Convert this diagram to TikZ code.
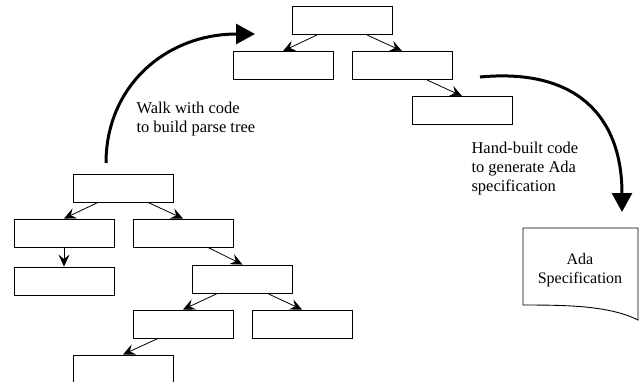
\documentclass[tikz,border=0pt]{standalone}
\usepackage{fontspec}
\setmainfont{Liberation Serif}
\usetikzlibrary{arrows.meta}

\begin{document}
\begin{tikzpicture}[x=1pt,y=-1pt,
  treebox/.style={draw,line width=0.9pt,minimum width=100pt,minimum height=28pt,inner sep=0pt},
  link/.style={-{Stealth[length=12pt,width=11pt,inset=4.5pt]},line width=0.8pt},
  bigarrow/.style={-{Triangle[length=19pt,width=20pt]},line width=3pt},
  note/.style={align=left,anchor=west,font=\fontsize{16.5}{19}\selectfont}]

\clip (0,0) rectangle (641,381);

% parse tree
\node[treebox] (root) at (123,188) {};
\node[treebox] (rootl) at (64,233) {};
\node[treebox] (rootr) at (183,233) {};
\node[treebox] (rootll) at (64,281) {};
\node[treebox] (rootrr) at (242.5,279) {};
\node[treebox] (rootrrl) at (183,324) {};
\node[treebox] (rootrrr) at (302,324) {};
\node[treebox] (rootrrll) at (123,369) {};

\draw[link] ([xshift=-25pt]root.south) -- (rootl.north);
\draw[link] ([xshift=25pt]root.south) -- (rootr.north);
\draw[link] (rootl.south) -- (rootll.north);
\draw[link] ([xshift=25pt]rootr.south) -- (rootrr.north);
\draw[link] ([xshift=-25pt]rootrr.south) -- (rootrrl.north);
\draw[link] ([xshift=25pt]rootrr.south) -- (rootrrr.north);
\draw[link] ([xshift=-25pt]rootrrl.south) -- (rootrrll.north);

% walked tree
\node[treebox] (walk) at (342,20.5) {};
\node[treebox] (walkl) at (283,65.5) {};
\node[treebox] (walkr) at (402,65.5) {};
\node[treebox] (walkrr) at (462,110.5) {};

\draw[link] ([xshift=-25pt]walk.south) -- (walkl.north);
\draw[link] ([xshift=25pt]walk.south) -- (walkr.north);
\draw[link] ([xshift=25pt]walkr.south) -- (walkrr.north);

% big arrows
\coordinate (walkfrom) at (106,163);
\coordinate (walkto) at (255,34);
\draw[bigarrow] (walkfrom) .. controls (106,86) and (166,34) .. (walkto);
\node[note] (walktext) at (133,119) {Walk with code\\to build parse tree};

\coordinate (genfrom) at (480,77);
\coordinate (gento) at (622,212);
\draw[bigarrow] (genfrom) .. controls (575,68) and (622,115) .. (gento);
\node[note] (gentext) at (468,169) {Hand-built code\\to generate Ada\\specification};

% document
\draw[line width=0.9pt] (523,228) -- (638,228) -- (638,320)
  .. controls (610,306) and (570,305) .. (523,305) -- cycle;
\node[align=center,font=\fontsize{16}{19}\selectfont] (adaspec) at (580,270) {Ada\\Specification};
\end{tikzpicture}
\end{document}
